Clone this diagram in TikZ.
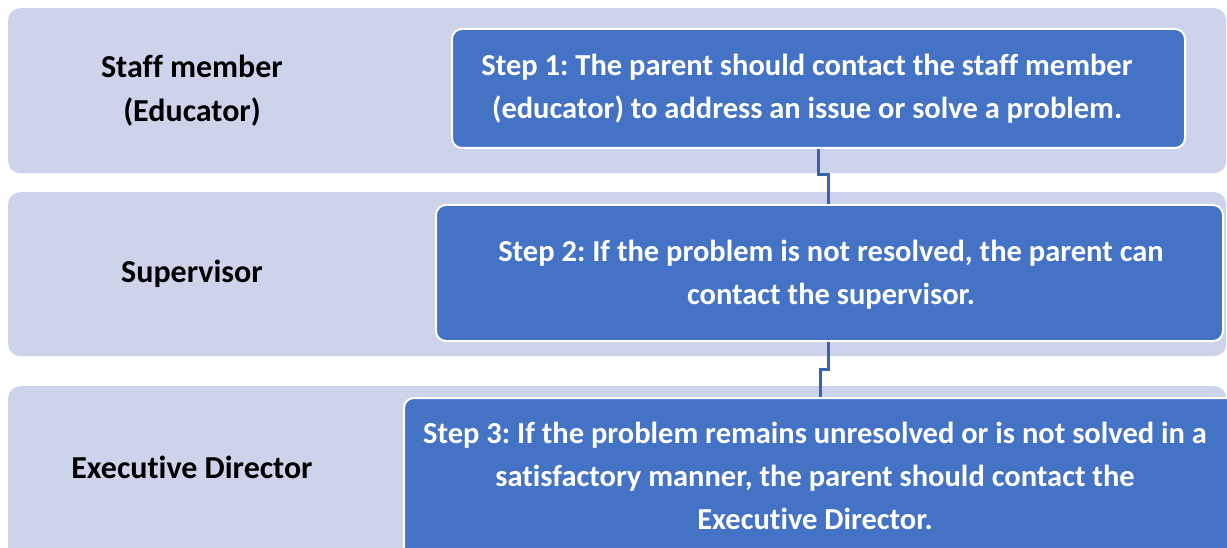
\documentclass[tikz,border=0pt]{standalone}
\usepackage{fontspec}
\setmainfont[Ligatures=NoCommon]{Carlito}
\frenchspacing
\definecolor{bandcol}{HTML}{CDD3EB}
\definecolor{boxcol}{HTML}{4472C4}
\definecolor{conncol}{HTML}{3A63AE}
\begin{document}
\begin{tikzpicture}[x=1pt,y=-1pt,
  band/.style={fill=bandcol, draw=none, rounded corners=12pt, anchor=north west, inner sep=0pt},
  stepbox/.style={fill=boxcol, draw=white, line width=2pt, rounded corners=10pt, anchor=north west, inner sep=0pt},
  lbl/.style={font=\fontsize{32}{44}\selectfont\bfseries, align=center, text=black},
  steptxt/.style={font=\fontsize{30.5}{43}\selectfont\bfseries, align=center, text=white},
  conn/.style={draw=conncol, line width=3pt}]
\useasboundingbox (0,0) rectangle (1227,548);
\clip (0,0) rectangle (1227,548);
\node[band, minimum width=1218pt, minimum height=165pt] (b1) at (8,8) {};
\node[band, minimum width=1218pt, minimum height=164pt] (b2) at (8,192) {};
\node[band, minimum width=1218pt, minimum height=190pt] (b3) at (8,386) {};
\node[stepbox, minimum width=733pt, minimum height=119pt] (s1) at (451,28) {};
\node[stepbox, minimum width=787pt, minimum height=136pt] (s2) at (435,204) {};
\node[stepbox, minimum width=840pt, minimum height=180pt] (s3) at (403,397) {};
\node[lbl] (l1) at (192,91) {Staff member\\(Educator)};
\node[lbl] (l2) at (192,274) {Supervisor};
\node[lbl] (l3) at (192,467) {Executive Director};
\node[steptxt] (t1) at (807,89) {Step 1: The parent should contact the staff member\\(educator) to address an issue or solve a problem.};
\node[steptxt] (t2) at (831,275) {Step 2: If the problem is not resolved, the parent can\\contact the supervisor.};
\node[steptxt] (t3) at (815,476) {Step 3: If the problem remains unresolved or is not solved in a\\satisfactory manner, the parent should contact the\\Executive Director.};
\draw[conn] (s1.south -| 818,0) -- (818,175) -- (828,175) -- (s2.north -| 828,0);
\draw[conn] (s2.south -| 828,0) -- (828,369) -- (820,369) -- (s3.north -| 820,0);
\end{tikzpicture}
\end{document}
